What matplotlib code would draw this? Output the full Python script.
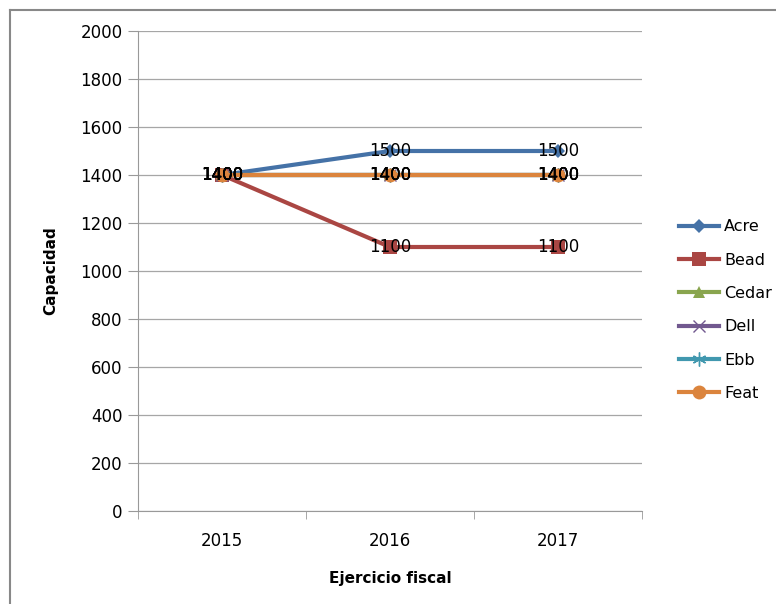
import matplotlib
matplotlib.use("Agg")
import matplotlib.pyplot as plt
from matplotlib.lines import Line2D

years = ["2015", "2016", "2017"]
series_names = ["Acre", "Bead", "Cedar", "Dell", "Ebb", "Feat"]
acre = [1400, 1500, 1500]
bead = [1400, 1100, 1100]
cedar = [1400, 1400, 1400]
dell = [1400, 1400, 1400]
ebb = [1400, 1400, 1400]
feat = [1400, 1400, 1400]

colors = ["#4572A7", "#AA4643", "#89A54E", "#71588F", "#4198AF", "#DB843D"]
markers = ["D", "s", "^", "x", (6, 2, 0), "o"]
msizes = [7, 10, 9, 9, 10, 10]

plt.rcParams["font.family"] = ["DejaVu Sans"]

fig = plt.figure(figsize=(7.76, 6.04), dpi=100)
ax = fig.add_axes([138 / 776, 93 / 604, 504 / 776, 480 / 604])

x = list(range(len(years)))
all_series = [acre, bead, cedar, dell, ebb, feat]
for name, vals, c, m, ms in zip(series_names, all_series, colors, markers, msizes):
    thin = m == "x" or isinstance(m, tuple)
    ax.plot(x, vals, color=c, lw=3, marker=m, ms=ms, mew=1 if thin else 0,
            mec=c, label=name, zorder=3)
    for xi, v in zip(x, vals):
        ax.text(xi, v, str(v), ha="center", va="center", fontsize=12,
                color="black", zorder=5)

ax.set_xlim(-0.5, 2.5)
ax.set_ylim(0, 2000)
ax.set_yticks(range(0, 2001, 200))
ax.set_xticks(x)
ax.set_xticklabels(years)
ax.set_xticks([-0.5, 0.5, 1.5, 2.5], minor=True)
ax.tick_params(axis="x", which="major", length=0, pad=15, labelsize=12)
ax.tick_params(axis="x", which="minor", length=6, color="#999999")
ax.tick_params(axis="y", length=7, color="#999999", labelsize=12, pad=4)
ax.yaxis.grid(True, color="#A6A6A6", lw=0.9)
ax.set_axisbelow(True)
for s in ["top", "right"]:
    ax.spines[s].set_visible(False)
for s in ["left", "bottom"]:
    ax.spines[s].set_color("#999999")

ax.set_xlabel("Ejercicio fiscal", fontsize=11, fontweight="bold", labelpad=15)
ax.set_ylabel("Capacidad", fontsize=11, fontweight="bold", labelpad=16)

leg = ax.legend(loc="upper left", bbox_to_anchor=(668 / 776, 1 - 208 / 604),
                bbox_transform=fig.transFigure, frameon=False, fontsize=11.5,
                handlelength=2.5, handletextpad=0.3, labelspacing=1.15,
                borderpad=0.2)

# chart border (extends past the image on right and bottom)
fig.add_artist(Line2D([10 / 776, 1], [1 - 10 / 604] * 2, color="#888888", lw=1.5,
                      transform=fig.transFigure))
fig.add_artist(Line2D([10 / 776] * 2, [0, 1 - 10 / 604], color="#888888", lw=1.5,
                      transform=fig.transFigure))

fig.savefig("out.png", dpi=100)
